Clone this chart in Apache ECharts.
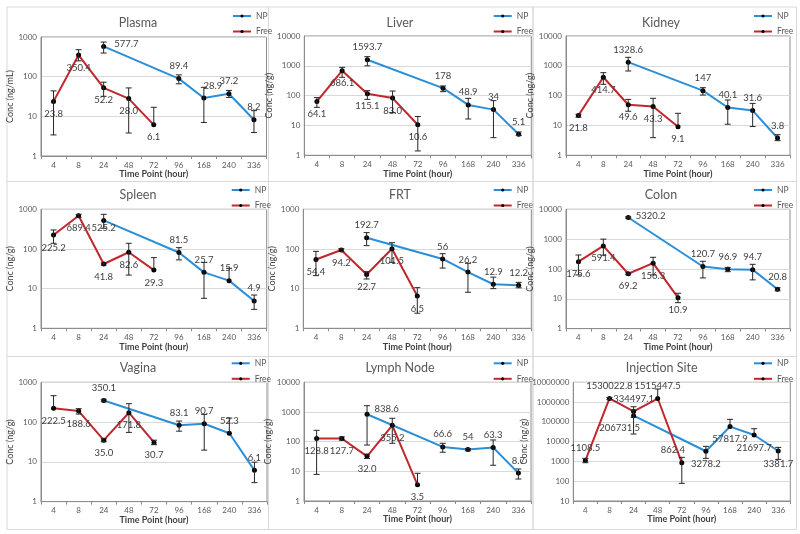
<!DOCTYPE html>
<html><head><meta charset="utf-8">
<script src="https://cdn.jsdelivr.net/npm/echarts@6/dist/echarts.min.js"></script>
<style>html,body{margin:0;padding:0;background:#fff}#c{width:800px;height:534px}</style>
</head><body><div id="c"></div>
<script>
// ---------- DATA ----------
const categories = ['4','8','24','48','72','96','168','240','336'];

// Plasma
const plasmaNP      = [null,null,577.7,null,null,89.4,28.9,37.2,8.2];
const plasmaNPHi    = [null,null,747,null,null,111,54,45,13.9];
const plasmaNPLo    = [null,null,394,null,null,66,7,30,3.9];
const plasmaFree    = [23.8,350.4,52.2,28.0,6.1,null,null,null,null];
const plasmaFreeHi  = [43.8,478,72.6,52,16.9,null,null,null,null];
const plasmaFreeLo  = [3.4,250,32,3.8,null,null,null,null,null];
// Liver
const liverNP       = [null,null,1593.7,null,null,178,48.9,34,5.1];
const liverNPHi     = [null,null,2028,null,null,211,81,68,6.05];
const liverNPLo     = [null,null,1000,null,null,136,16.5,3.9,4.6];
const liverFree     = [64.1,686.1,115.1,83.0,10.6,null,null,null,null];
const liverFreeHi   = [86,890,147,143,20,null,null,null,null];
const liverFreeLo   = [40.6,412,75,27,1.4,null,null,null,null];
// Kidney
const kidneyNP      = [null,null,1328.6,null,null,147,40.1,31.6,3.8];
const kidneyNPHi    = [null,null,1926,null,null,185,71.6,55,4.9];
const kidneyNPLo    = [null,null,671,null,null,105,11,9.2,3.1];
const kidneyFree    = [21.8,414.7,49.6,43.3,9.1,null,null,null,null];
const kidneyFreeHi  = [23.7,590,75,81.5,25.6,null,null,null,null];
const kidneyFreeLo  = [19,240,30,3.9,null,null,null,null,null];
// Spleen
const spleenNP      = [null,null,525.2,null,null,81.5,25.7,15.9,4.9];
const spleenNPHi    = [null,null,748,null,null,108,46,32.6,6.9];
const spleenNPLo    = [null,null,332,null,null,53,5.7,null,3.0];
const spleenFree    = [225.2,689.4,41.8,82.6,29.3,null,null,null,null];
const spleenFreeHi  = [301,748,44,139,60.5,null,null,null,null];
const spleenFreeLo  = [139,630,39,22,null,null,null,null,null];
// FRT
const frtNP         = [null,null,192.7,null,null,56,26.2,12.9,12.2];
const frtNPHi       = [null,null,258,null,null,76,43.5,19.5,14.4];
const frtNPLo       = [null,null,121,null,null,33,8.1,10,10.5];
const frtFree       = [54.4,94.2,22.7,101.5,6.5,null,null,null,null];
const frtFreeHi     = [87,102,26.8,144,10.6,null,null,null,null];
const frtFreeLo     = [21.3,86,17.5,46,2.4,null,null,null,null];
// Colon
const colonNP       = [null,null,5320.2,null,null,120.7,96.9,94.7,20.8];
const colonNPHi     = [null,null,5600,null,null,181,113,143,23.5];
const colonNPLo     = [null,null,5050,null,null,50,81,43,18.5];
const colonFree     = [175.6,591.4,69.2,156.3,10.9,null,null,null,null];
const colonFreeHi   = [294,1000,74,246,15.3,null,null,null,null];
const colonFreeLo   = [63,290,64,63,7.4,null,null,null,null];
// Vagina
const vaginaNP      = [null,null,350.1,null,null,83.1,90.7,52.3,6.1];
const vaginaNPHi    = [null,null,375,null,null,106,156,126,9.8];
const vaginaNPLo    = [null,null,325,null,null,59,19.7,null,3.0];
const vaginaFree    = [222.5,188.6,35.0,171.8,30.7,null,null,null,null];
const vaginaFreeHi  = [461,217,38,290,35,null,null,null,null];
const vaginaFreeLo  = [null,159,32,55,27,null,null,null,null];
// Lymph Node
const lymphNP       = [null,null,838.6,null,null,66.6,54,63.3,8.7];
const lymphNPHi     = [null,null,1630,null,null,88,59,114,12];
const lymphNPLo     = [null,null,77,null,null,44,49,16,5.5];
const lymphFree     = [128.8,127.7,32.0,355.2,3.5,null,null,null,null];
const lymphFreeHi   = [241,145,38,614,8.6,null,null,null,null];
const lymphFreeLo   = [7.9,112,27,88,null,null,null,null,null];
// Injection Site
const injNP         = [null,null,206731.5,null,null,3278.2,57817.9,21697.7,3381.7];
const injNPHi       = [null,null,390000,null,null,5800,134000,45000,5130];
const injNPLo       = [null,null,24300,null,null,1430,null,null,1270];
const injFree       = [1108.5,1530022.8,334497.1,1515447.5,862.4,null,null,null,null];
const injFreeHi     = [1432,1700000,583000,4600000,1607,null,null,null,null];
const injFreeLo     = [863,1360000,170000,null,78,null,null,null,null];

const panelTitles = ['Plasma','Liver','Kidney','Spleen','FRT','Colon','Vagina','Lymph Node','Injection Site'];
const yNames = ['Conc (ng/mL)','Conc (ng/g)','Conc (ng/g)','Conc (ng/g)','Conc (ng/g)','Conc (ng/g)','Conc (ng/g)','Conc (ng/g)','Conc (ng/g)'];
const yMins = [1,1,1,1,1,1,1,1,10];
const yMaxs = [1000,10000,10000,1000,1000,10000,1000,10000,10000000];

const panels = [
  [plasmaNP,plasmaNPHi,plasmaNPLo,plasmaFree,plasmaFreeHi,plasmaFreeLo],
  [liverNP,liverNPHi,liverNPLo,liverFree,liverFreeHi,liverFreeLo],
  [kidneyNP,kidneyNPHi,kidneyNPLo,kidneyFree,kidneyFreeHi,kidneyFreeLo],
  [spleenNP,spleenNPHi,spleenNPLo,spleenFree,spleenFreeHi,spleenFreeLo],
  [frtNP,frtNPHi,frtNPLo,frtFree,frtFreeHi,frtFreeLo],
  [colonNP,colonNPHi,colonNPLo,colonFree,colonFreeHi,colonFreeLo],
  [vaginaNP,vaginaNPHi,vaginaNPLo,vaginaFree,vaginaFreeHi,vaginaFreeLo],
  [lymphNP,lymphNPHi,lymphNPLo,lymphFree,lymphFreeHi,lymphFreeLo],
  [injNP,injNPHi,injNPLo,injFree,injFreeHi,injFreeLo]
];

// ---------- LAYOUT / STYLE ----------
const FONT = 'Lato, "Open Sans", sans-serif';
const BLUE = '#2b8fd8', RED = '#c1272d', AX = '#8c8c8c';
const layouts = [
  {left:41,  top:37,    width:225.5, height:119,   title:[138,23],   legend:[232,11],    gap:23},
  {left:304.3,top:36,   width:227,   height:119.3, title:[400,23],   legend:[492.7,11],  gap:21.5},
  {left:566, top:36,    width:224,   height:119.3, title:[661,23],   legend:[753,11],    gap:24},
  {left:41,  top:209.3, width:225.7, height:119,   title:[138,195],  legend:[230.7,185], gap:23},
  {left:303.3,top:209.3,width:228,   height:119,   title:[400,195],  legend:[492.7,185], gap:20.5},
  {left:566, top:209.3, width:224,   height:119.3, title:[661,195],  legend:[753,185],   gap:24.5},
  {left:41,  top:382.3, width:226,   height:119.3, title:[138,368],  legend:[230.7,358.3],gap:23.5},
  {left:304, top:382.3, width:227,   height:118.7, title:[400,368],  legend:[492.7,358.3],gap:22.5},
  {left:573.3,top:382.3,width:217,   height:118.7, title:[661.7,368],legend:[753,358.3], gap:31.5}
];
// label placement (default per series + per-point overrides)
const labelCfg = [
  {np:'top', free:'bottom', npOver:{2:{position:'right',offset:[3,-3]},6:{offset:[9,0]}}, freeOver:{}},
  {np:'top', free:'bottom', npOver:{}, freeOver:{}},
  {np:'top', free:'bottom', npOver:{}, freeOver:{}},
  {np:'top', free:'bottom', npOver:{2:{position:'bottom',offset:[0,-5]}}, freeOver:{}},
  {np:'top', free:'bottom', npOver:{}, freeOver:{}},
  {np:'top', free:'bottom', npOver:{2:{position:'right',offset:[0,-2]}}, freeOver:{}},
  {np:'top', free:'bottom', npOver:{}, freeOver:{}},
  {np:'top', free:'bottom', npOver:{2:{position:'right',offset:[0,-5]}}, freeOver:{}},
  {np:'bottom', free:'top', npOver:{2:{offset:[-14,0]}}, freeOver:{4:{offset:[-9,0]}}}
];
const frameX = [7, 268.5, 533, 796.5];
const frameY = [7, 181.5, 356.5, 529.5];

function items(vals, over) {
  return vals.map((v, i) => {
    if (v == null) return null;
    return over[i] ? {value: v, label: Object.assign({}, over[i])} : v;
  });
}
function errData(vals, hi, lo) {
  const out = [];
  vals.forEach((v, i) => {
    if (v == null) return;
    out.push([i, v, hi[i], lo[i] == null ? v : lo[i], lo[i] == null ? 0 : 1]);
  });
  return out;
}
function renderErr(params, api) {
  const x = api.value(0), hi = api.value(2), lo = api.value(3), hasLo = api.value(4);
  const pt = api.coord([x, hi]), pb = api.coord([x, lo]);
  const cw = 3, st = {stroke:'#262626', lineWidth:1};
  const ch = [
    {type:'line', shape:{x1:pt[0],y1:pt[1],x2:pb[0],y2:pb[1]}, style:st},
    {type:'line', shape:{x1:pt[0]-cw,y1:pt[1],x2:pt[0]+cw,y2:pt[1]}, style:st}
  ];
  if (hasLo) ch.push({type:'line', shape:{x1:pb[0]-cw,y1:pb[1],x2:pb[0]+cw,y2:pb[1]}, style:st});
  return {type:'group', children: ch};
}

const grid = [], xAxis = [], yAxis = [], series = [], legend = [], graphic = [];
for (let r = 0; r < 3; r++) for (let c = 0; c < 3; c++) {
  graphic.push({type:'rect', silent:true, z:-10,
    shape:{x:frameX[c], y:frameY[r], width:frameX[c+1]-frameX[c], height:frameY[r+1]-frameY[r]},
    style:{fill:null, stroke:'#d9d9d9', lineWidth:1}});
}
panels.forEach((p, k) => {
  const L = layouts[k], LC = labelCfg[k];
  grid.push({left:L.left, top:L.top, width:L.width, height:L.height, show:true, borderColor:AX, borderWidth:1, backgroundColor:'transparent'});
  xAxis.push({type:'category', gridIndex:k, data:categories, boundaryGap:true,
    axisLine:{lineStyle:{color:AX}}, axisTick:{show:true, length:3, lineStyle:{color:AX}},
    axisLabel:{color:'#595959', fontSize:8, margin:5, fontFamily:FONT, interval:0},
    name:'Time Point (hour)', nameLocation:'middle', nameGap:14,
    nameTextStyle:{color:'#404040', fontSize:9, fontWeight:'bold', fontFamily:FONT}});
  yAxis.push({type:'log', logBase:10, gridIndex:k, min:yMins[k], max:yMaxs[k],
    axisLine:{show:true, lineStyle:{color:AX}}, axisTick:{show:false},
    splitLine:{show:true, lineStyle:{color:'#d9d9d9'}},
    axisLabel:{color:'#595959', fontSize:8, margin:4, fontFamily:FONT, formatter:v => String(Math.round(v))},
    name:yNames[k], nameLocation:'middle', nameGap:L.gap,
    nameTextStyle:{color:'#404040', fontSize:9, fontFamily:FONT}});
  const lbl = (pos, fmt) => ({show:true, position:pos, distance:5, color:'#404040', fontSize:9.5, fontFamily:FONT, formatter:fmt});
  series.push({type:'line', name:'NP', xAxisIndex:k, yAxisIndex:k, data:items(p[0], LC.npOver),
    connectNulls:true, symbol:'circle', symbolSize:5, lineStyle:{color:BLUE, width:2}, itemStyle:{color:'#000'},
    label:lbl(LC.np, q => String(q.value)), z:3, silent:true});
  series.push({type:'line', name:'Free', xAxisIndex:k, yAxisIndex:k, data:items(p[3], LC.freeOver),
    connectNulls:false, symbol:'circle', symbolSize:5, lineStyle:{color:RED, width:2}, itemStyle:{color:'#000'},
    label:lbl(LC.free, q => Number(q.value).toFixed(1)), z:3, silent:true});
  series.push({type:'custom', xAxisIndex:k, yAxisIndex:k, renderItem:renderErr, data:errData(p[0],p[1],p[2]),
    encode:{x:0, y:[1,2,3]}, z:4, silent:true, clip:false});
  series.push({type:'custom', xAxisIndex:k, yAxisIndex:k, renderItem:renderErr, data:errData(p[3],p[4],p[5]),
    encode:{x:0, y:[1,2,3]}, z:4, silent:true, clip:false});
  legend.push({data:['NP','Free'], orient:'vertical', left:L.legend[0], top:L.legend[1], padding:0,
    itemWidth:18, itemHeight:4, itemGap:5.5, selectedMode:false,
    textStyle:{color:'#595959', fontSize:8.5, fontFamily:FONT, lineHeight:10}});
  graphic.push({type:'text', silent:true, x:L.title[0], y:L.title[1],
    style:{text:panelTitles[k], fill:'#595959', font:'12.5px ' + FONT, textAlign:'center', textVerticalAlign:'middle'}});
});

const chart = echarts.init(document.getElementById('c'), null, {renderer:'canvas'});
chart.setOption({animation:false, backgroundColor:'#fff', grid, xAxis, yAxis, series, legend, graphic});
</script></body></html>
